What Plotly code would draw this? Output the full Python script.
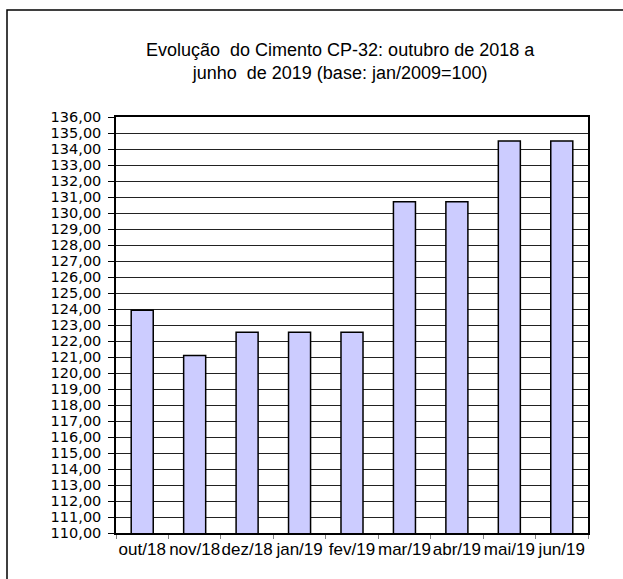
import plotly.graph_objects as go

categories = ["out/18", "nov/18", "dez/18", "jan/19", "fev/19",
              "mar/19", "abr/19", "mai/19", "jun/19"]
values = [123.92, 121.10, 122.55, 122.55, 122.55, 130.70, 130.70, 134.50, 134.50]
y_ticks = list(range(110, 137))
title_lines = ["Evolução&nbsp; do Cimento CP-32: outubro de 2018 a",
               "junho&nbsp; de 2019 (base: jan/2009=100)"]

W, H = 623, 579
ML, MR, MT, MB = 116, 35, 117, 46
pw, ph = W - ML - MR, H - MT - MB

def px_to_paper(x, y):
    return (x - ML) / pw, (H - MB - y) / ph

fig = go.Figure()
fig.add_trace(go.Bar(
    x=categories, y=values, width=0.42,
    marker=dict(color="#CCCCFF", line=dict(color="black", width=1.5)),
))

# outer frame (left and top edges)
x0, y0 = px_to_paper(7, H + 5)
x1, y1 = px_to_paper(7, 10)
x2, _ = px_to_paper(W + 5, 10)
fig.add_shape(type="path", xref="paper", yref="paper",
              path=f"M {x0} {y0} L {x1} {y1} L {x2} {y1}",
              line=dict(color="black", width=1.5))

tx, ty = px_to_paper(340, 61)
fig.add_annotation(xref="paper", yref="paper", x=tx, y=ty,
                   text="<br>".join(title_lines), showarrow=False,
                   xanchor="center", yanchor="middle",
                   font=dict(family="Liberation Sans, Arial", size=18, color="black"))

fig.update_layout(
    width=W, height=H,
    margin=dict(l=ML, r=MR, t=MT, b=MB, pad=0, autoexpand=False),
    paper_bgcolor="white", plot_bgcolor="white",
    separators=",.",
    showlegend=False,
    bargap=0.58,
)
fig.update_xaxes(
    type="category", range=[-0.5, 8.5], tickson="boundaries",
    ticks="outside", ticklen=4, tickcolor="#808080", tickwidth=1,
    showline=True, linecolor="black", linewidth=1.5, mirror=True,
    showgrid=False, tickangle=0, automargin=False,
    tickfont=dict(family="Liberation Sans, Arial", size=17, color="black"),
)
fig.update_yaxes(
    range=[110, 136], tickmode="array", tickvals=y_ticks, tickformat=".2f",
    ticks="outside", ticklen=6, tickcolor="black", tickwidth=1,
    ticklabelstandoff=4,
    showline=True, linecolor="black", linewidth=1.5, mirror=True,
    showgrid=True, gridcolor="#222222", gridwidth=1, zeroline=False,
    automargin=False,
    tickfont=dict(family="DejaVu Sans", size=14.5, color="black"),
)
fig.write_html("out.html", config={"displayModeBar": False},
               post_script="document.body.style.margin='0';document.body.style.overflow='hidden';")
